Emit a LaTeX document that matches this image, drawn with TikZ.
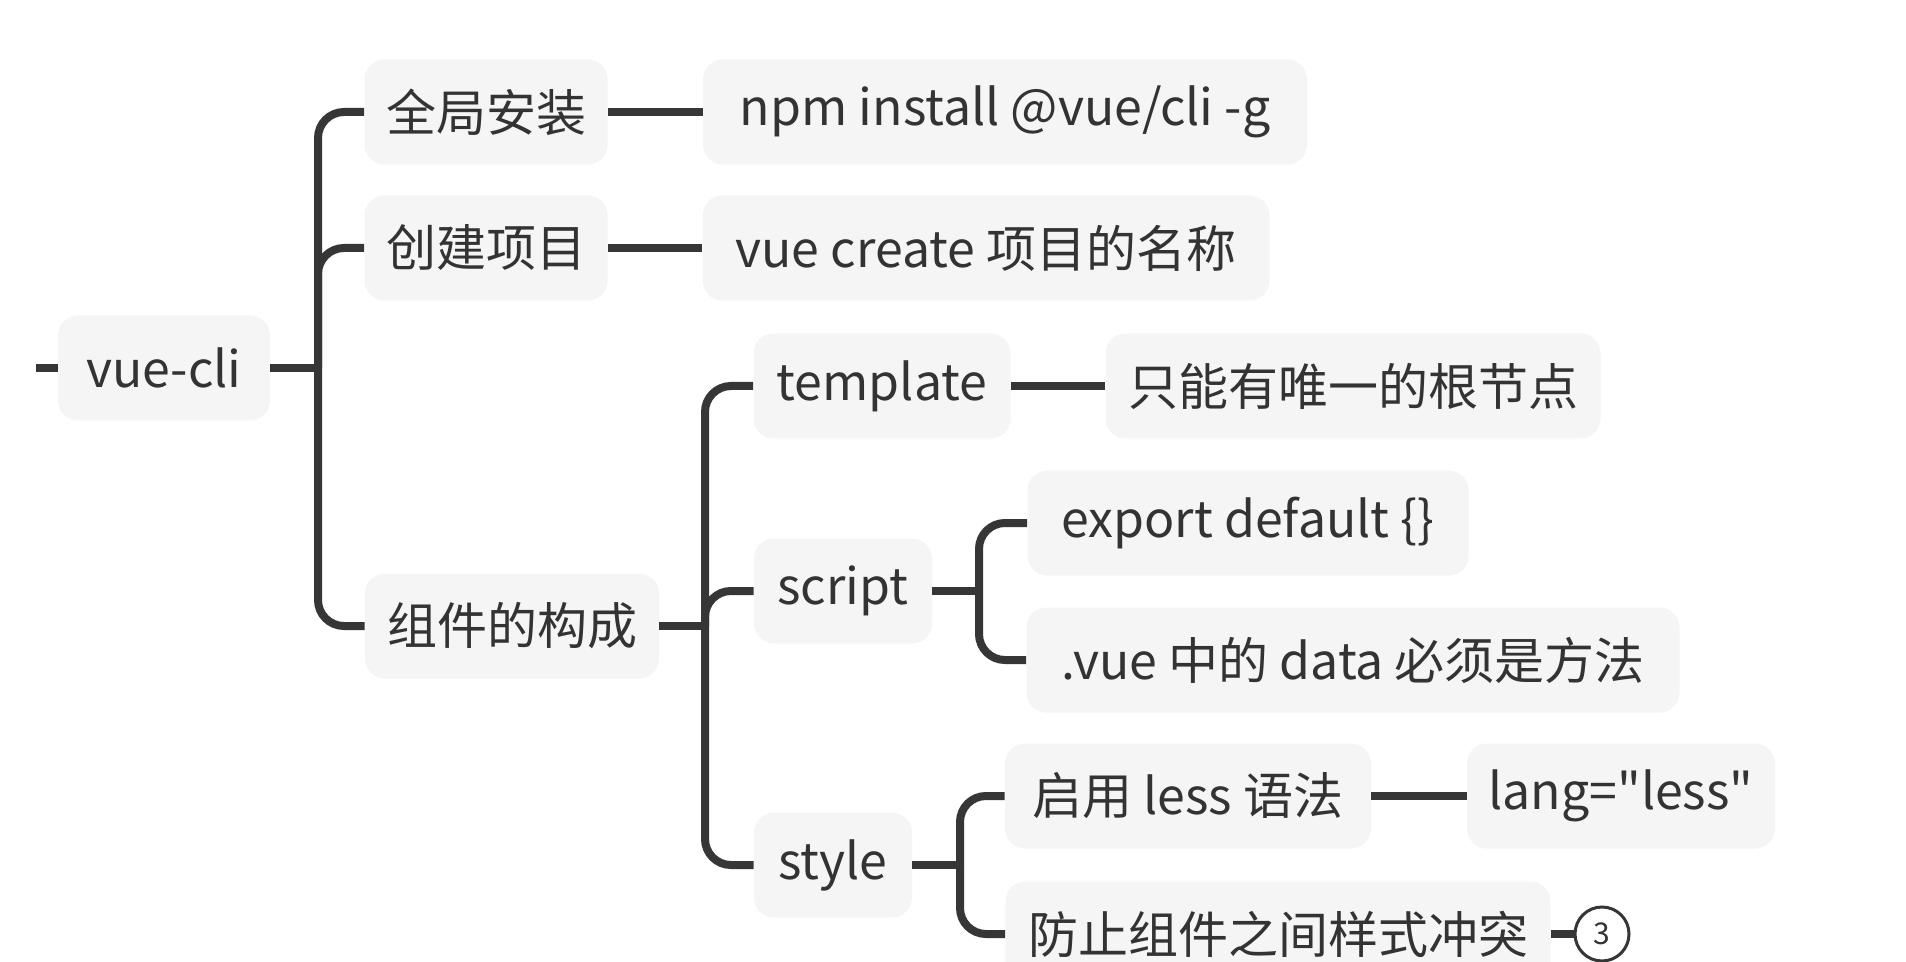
\documentclass[tikz,border=0pt]{standalone}
\usepackage{fontspec}
\setmainfont{Noto Sans CJK SC}[Ligatures=TeXOff]
\definecolor{linec}{HTML}{363636}
\definecolor{boxc}{HTML}{F5F5F5}
\definecolor{txtc}{HTML}{333333}
\begin{document}
\begin{tikzpicture}[x=0.5pt,y=-0.5pt,
  topic/.style={fill=boxc, rounded corners=10pt, minimum height=52.5pt, inner sep=0pt, text=txtc, font=\fontsize{25}{30}\selectfont},
  conn/.style={draw=linec, line width=4pt},
  curve/.style={conn, rounded corners=13pt},
  badge/.style={circle, draw=linec, line width=1.5pt, fill=white, minimum size=27pt, inner sep=0pt, text=txtc, font=\fontsize{15}{18}\selectfont}]
\clip (0,0) rectangle (1906,962);
\fill[white] (0,0) rectangle (1906,962);
% nodes
\node[topic, minimum width=106pt]   (vuecli)   at (164,368) {vue-cli};
\node[topic, minimum width=121.5pt] (g1)       at (486,112) {全局安装};
\node[topic, minimum width=121.5pt] (g2)       at (486,248) {创建项目};
\node[topic, minimum width=147pt]   (g3)       at (512,626) {组件的构成};
\node[topic, minimum width=302pt]   (npm)      at (1005,112) {npm install @vue/cli -g};
\node[topic, minimum width=283.5pt] (create)   at (986,248) {vue create 项目的名称};
\node[topic, minimum width=128.5pt] (tmpl)     at (882,386) {template};
\node[topic, minimum width=247.5pt] (root)     at (1353,386) {只能有唯一的根节点};
\node[topic, minimum width=89pt]    (script)   at (843,591) {script};
\node[topic, minimum width=220.5pt] (export)   at (1248,523) {export default \{\}};
\node[topic, minimum width=326.5pt] (vdata)    at (1353,660) {.vue 中的 data 必须是方法};
\node[topic, minimum width=79pt]    (style)    at (833,865) {style};
\node[topic, minimum width=183pt]   (less)     at (1188,796) {启用 less 语法};
\node[topic, minimum width=154pt]   (lang)     at (1621,796) {lang="less"};
\node[topic, minimum width=272.5pt] (conflict) at (1278,934) {防止组件之间样式冲突};
\node[badge] (three) at (1602,934) {3};
% coordinates
\coordinate (stub) at (36,368);
\coordinate (b1) at (318,368);
\coordinate (b2) at (705,626);
\coordinate (b3) at (979,591);
\coordinate (b4) at (960,865);
% connectors
\draw[conn] (stub) -- (vuecli.west);
\draw[conn] (vuecli.east) -- (b1);
\draw[curve] (b1) |- (g1.west);
\draw[curve] (b1) |- (g2.west);
\draw[curve] (b1) |- (g3.west);
\draw[conn] (g1.east) -- (npm.west);
\draw[conn] (g2.east) -- (create.west);
\draw[conn] (g3.east) -- (b2);
\draw[curve] (b2) |- (tmpl.west);
\draw[curve] (b2) |- (script.west);
\draw[curve] (b2) |- (style.west);
\draw[conn] (tmpl.east) -- (root.west);
\draw[conn] (script.east) -- (b3);
\draw[curve] (b3) |- (export.west);
\draw[curve] (b3) |- (vdata.west);
\draw[conn] (style.east) -- (b4);
\draw[curve] (b4) |- (less.west);
\draw[curve] (b4) |- (conflict.west);
\draw[conn] (less.east) -- (lang.west);
\draw[conn] (conflict.east) -- (three.west);
\end{tikzpicture}
\end{document}
